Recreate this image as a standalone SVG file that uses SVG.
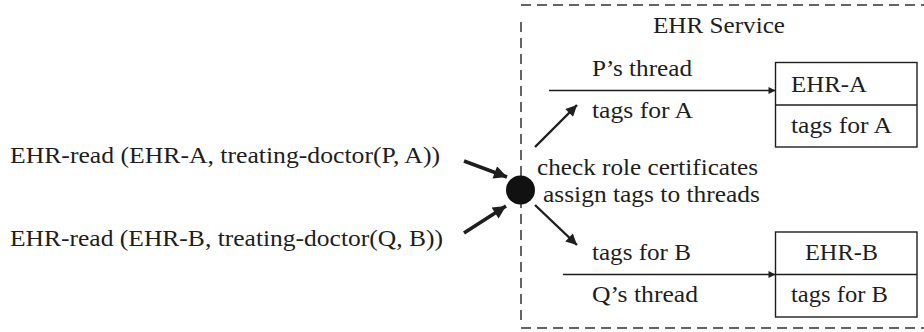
<svg xmlns="http://www.w3.org/2000/svg" width="924" height="332" viewBox="0 0 924 332">
<style>
text{font-family:"Liberation Serif","Times New Roman",serif;font-size:23px;fill:#1e1e1e}
.dash{stroke:#333;stroke-width:1.5;stroke-dasharray:10,6;fill:none}
.thin{stroke:#1e1e1e;stroke-width:1.4;fill:none}
.diag{stroke:#1e1e1e;stroke-width:2.4;fill:none}
.thick{stroke:#1e1e1e;stroke-width:3.6;fill:none}
.box{stroke:#1e1e1e;stroke-width:1.4;fill:#fff}
</style>
<defs>
<marker id="ah" viewBox="0 0 10 10" refX="10" refY="5" markerWidth="11" markerHeight="7" markerUnits="userSpaceOnUse" orient="auto"><path d="M0,0 L10,5 L0,10 Z" fill="#1e1e1e"/></marker>
<marker id="ahd" viewBox="0 0 10 10" refX="10" refY="5" markerWidth="14" markerHeight="11" markerUnits="userSpaceOnUse" orient="auto"><path d="M0,0 L10,5 L0,10 Z" fill="#1e1e1e"/></marker>
<marker id="ahb" viewBox="0 0 10 10" refX="10" refY="5" markerWidth="16" markerHeight="13" markerUnits="userSpaceOnUse" orient="auto"><path d="M0,0 L10,5 L0,10 Z" fill="#1e1e1e"/></marker>
</defs>
<g id="service-boundary">
<path class="dash" d="M521,5 H924 M521,328 H924 M521,22 V323"/>
<text x="653" y="33" textLength="132" lengthAdjust="spacingAndGlyphs">EHR Service</text>
</g>
<g id="request-a"><text x="10" y="163" textLength="430" lengthAdjust="spacingAndGlyphs">EHR-read (EHR-A, treating-doctor(P, A))</text></g>
<g id="request-b"><text x="10" y="246" textLength="433" lengthAdjust="spacingAndGlyphs">EHR-read (EHR-B, treating-doctor(Q, B))</text></g>
<g id="checker">
<circle cx="520.5" cy="190" r="14.5" fill="#111"/>
<text x="537" y="175" textLength="221" lengthAdjust="spacingAndGlyphs">check role certificates</text>
<text x="543" y="202" textLength="217" lengthAdjust="spacingAndGlyphs">assign tags to threads</text>
</g>
<g id="ehr-a">
<rect class="box" x="775.5" y="62.5" width="141.5" height="84.5"/>
<line class="thin" x1="775.5" y1="105" x2="917" y2="105"/>
<text x="791" y="92" textLength="76" lengthAdjust="spacingAndGlyphs">EHR-A</text>
<text x="791" y="133" textLength="101" lengthAdjust="spacingAndGlyphs">tags for A</text>
</g>
<g id="ehr-b">
<rect class="box" x="775.5" y="232" width="141.5" height="85"/>
<line class="thin" x1="775.5" y1="274.5" x2="917" y2="274.5"/>
<text x="805" y="260" textLength="73" lengthAdjust="spacingAndGlyphs">EHR-B</text>
<text x="791" y="302" textLength="97" lengthAdjust="spacingAndGlyphs">tags for B</text>
</g>
<g id="connectors">
<line class="thick" x1="464" y1="161" x2="507" y2="177" marker-end="url(#ahb)"/>
<line class="thick" x1="464" y1="233" x2="506" y2="206" marker-end="url(#ahb)"/>
<line class="diag" x1="535" y1="147" x2="577" y2="105" marker-end="url(#ahd)"/>
<line class="diag" x1="535" y1="205" x2="577" y2="245" marker-end="url(#ahd)"/>
<line class="thin" x1="549" y1="90.5" x2="775.5" y2="90.5" marker-end="url(#ah)"/>
<line class="thin" x1="563" y1="274.5" x2="775.5" y2="274.5" marker-end="url(#ah)"/>
<text x="592" y="76" textLength="100" lengthAdjust="spacingAndGlyphs">P’s thread</text>
<text x="592" y="118" textLength="101" lengthAdjust="spacingAndGlyphs">tags for A</text>
<text x="592" y="260" textLength="99" lengthAdjust="spacingAndGlyphs">tags for B</text>
<text x="592" y="302" textLength="106" lengthAdjust="spacingAndGlyphs">Q’s thread</text>
</g>
</svg>
